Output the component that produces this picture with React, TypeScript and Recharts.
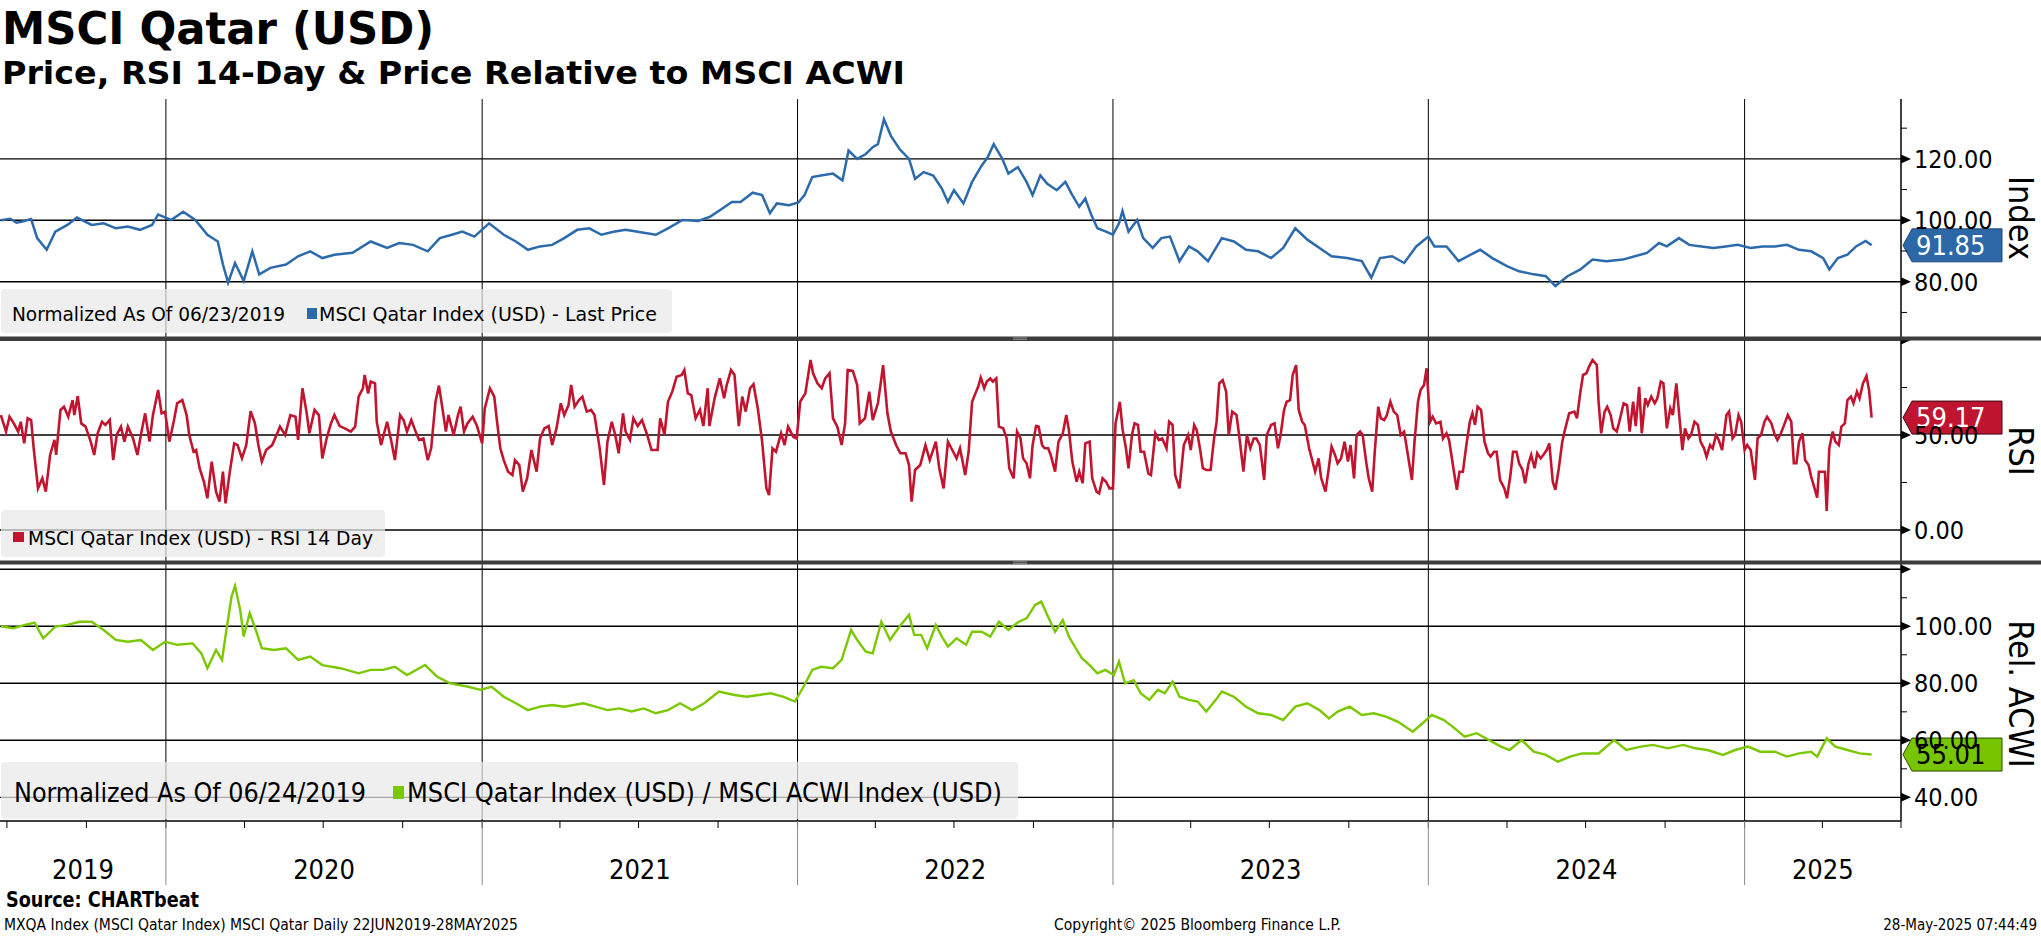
import React from "react";
import { LineChart, Line, XAxis, YAxis, ReferenceLine } from "recharts";

const FONT = "'DejaVu Sans Condensed', 'DejaVu Sans', sans-serif";

const X_START = "2019-06-23";
const X_END = "2025-07-01";
const YEAR_STARTS = ["2020-01-01", "2021-01-01", "2022-01-01", "2023-01-01", "2024-01-01", "2025-01-01"];
const YEAR_LABELS = ["2019", "2020", "2021", "2022", "2023", "2024", "2025"];

const PRICE_COLOR = "#2c6aab";
const RSI_COLOR = "#c1152f";
const REL_COLOR = "#7cc800";

// ---------------- Price (normalized) ----------------
const priceDates = [
  "2019-06-24", "2019-07-05", "2019-07-12", "2019-07-19", "2019-07-29", "2019-08-05", "2019-08-16", "2019-08-26", "2019-09-09", "2019-09-20",
  "2019-10-07", "2019-10-21", "2019-11-04", "2019-11-18", "2019-12-02", "2019-12-16", "2019-12-23",
  "2020-01-07", "2020-01-21", "2020-02-04", "2020-02-18", "2020-03-01", "2020-03-07", "2020-03-13", "2020-03-21", "2020-03-31", "2020-04-10",
  "2020-04-18", "2020-05-01", "2020-05-19", "2020-06-02", "2020-06-16", "2020-06-30", "2020-07-14", "2020-08-04", "2020-08-25", "2020-09-13",
  "2020-09-27", "2020-10-13", "2020-10-30", "2020-11-13", "2020-11-27", "2020-12-09", "2020-12-23",
  "2021-01-09", "2021-01-26", "2021-02-09", "2021-02-23", "2021-03-09", "2021-03-23", "2021-04-06", "2021-04-21", "2021-05-05", "2021-05-19",
  "2021-06-02", "2021-06-16", "2021-06-30", "2021-07-21", "2021-08-04", "2021-08-21", "2021-09-08", "2021-09-22", "2021-10-03", "2021-10-17",
  "2021-10-27", "2021-11-10", "2021-11-21", "2021-11-30", "2021-12-08", "2021-12-22",
  "2022-01-02", "2022-01-09", "2022-01-18", "2022-01-28", "2022-02-11", "2022-02-22", "2022-03-01", "2022-03-11", "2022-03-21", "2022-03-29",
  "2022-04-04", "2022-04-11", "2022-04-19", "2022-04-29", "2022-05-10", "2022-05-17", "2022-05-27", "2022-06-07", "2022-06-17", "2022-06-24",
  "2022-07-01", "2022-07-12", "2022-07-22", "2022-08-02", "2022-08-09", "2022-08-16", "2022-08-26", "2022-09-02", "2022-09-13", "2022-09-23",
  "2022-09-30", "2022-10-09", "2022-10-17", "2022-10-28", "2022-11-07", "2022-11-14", "2022-11-23", "2022-11-30", "2022-12-07", "2022-12-14",
  "2022-12-24",
  "2023-01-01", "2023-01-08", "2023-01-12", "2023-01-19", "2023-01-29", "2023-02-05", "2023-02-16", "2023-02-26", "2023-03-08", "2023-03-19",
  "2023-03-30", "2023-04-09", "2023-04-21", "2023-05-07", "2023-05-21", "2023-06-04", "2023-06-18", "2023-07-03", "2023-07-17", "2023-07-31",
  "2023-08-14", "2023-08-28", "2023-09-11", "2023-09-29", "2023-10-16", "2023-10-27", "2023-11-06", "2023-11-20", "2023-12-04", "2023-12-18",
  "2024-01-01", "2024-01-08", "2024-01-22", "2024-02-05", "2024-02-19", "2024-03-01", "2024-03-15", "2024-04-01", "2024-04-15", "2024-05-02",
  "2024-05-16", "2024-05-27", "2024-06-10", "2024-06-25", "2024-07-09", "2024-07-25", "2024-08-13", "2024-08-27", "2024-09-10", "2024-09-24",
  "2024-10-03", "2024-10-17", "2024-10-29", "2024-11-12", "2024-11-26", "2024-12-10", "2024-12-24",
  "2025-01-08", "2025-01-22", "2025-02-05", "2025-02-19", "2025-03-05", "2025-03-19", "2025-04-02", "2025-04-09", "2025-04-19", "2025-04-30",
  "2025-05-10", "2025-05-21", "2025-05-28",
];
const priceValues = [
  100, 100.5, 99.2, 99.6, 100.4, 94.2, 90.4, 96.3, 98.5, 100.9,
  98.5, 99, 97.4, 98, 96.9, 98.5, 101.9,
  100.1, 102.8, 100.1, 95.3, 93.1, 85.6, 79.7, 86.1, 80.2, 89.9,
  82.4, 84.5, 85.6, 88.3, 89.9, 87.7, 88.8, 89.4, 93.1, 91,
  92.6, 92, 89.9, 94.2, 95.3, 96.3, 94.7,
  99, 95.3, 93.1, 90.4, 91.5, 92, 94.2, 96.9, 97.4, 95.3,
  96.3, 96.9, 96.3, 95.3, 97.4, 100.1, 99.8, 101.2, 103.3, 106,
  106, 109, 108.2, 102.3, 105.5, 104.9,
  105.8, 108.2, 114.1, 114.6, 115.2, 113, 122.7, 120, 121.6, 123.8,
  124.8, 132.9, 127.5, 123.2, 120, 113.5, 115.7, 114.6, 110.3, 106,
  109.8, 105.5, 112.5, 117.8, 120.5, 124.8, 120, 115.2, 117.3, 112.5,
  108.2, 114.6, 111.9, 109.8, 112.5, 108.7, 104.4, 107.1, 101.7, 97.4,
  96.3,
  95.3, 99, 103, 96.3, 100.1, 94.2, 91, 94.2, 94.7, 86.7,
  91.5, 89.9, 86.7, 94.2, 93.1, 90.4, 89.9, 87.7, 91, 97.4,
  93.7, 91, 88.3, 87.7, 86.7, 81.3, 87.7, 88.3, 86.1, 91.5,
  94.7, 91.5, 91.5, 86.7, 88.8, 90.4, 87.7, 85.1, 83.4, 82.4,
  81.8, 78.6, 81.8, 84, 87.2, 86.7, 87.2, 88.3, 89.4, 92.6,
  91.5, 94.2, 92, 91.5, 91, 91.5, 92,
  91, 91.5, 91.5, 92, 90.4, 89.9, 87.7, 84, 87.7, 88.8,
  91.5, 93.3, 91.85,
];

// ---------------- RSI 14 day ----------------
const rsiDates = [
  "2019-06-24", "2019-06-30", "2019-07-04", "2019-07-09", "2019-07-14", "2019-07-17", "2019-07-21", "2019-07-25", "2019-07-29", "2019-08-01",
  "2019-08-06", "2019-08-11", "2019-08-15", "2019-08-20", "2019-08-25", "2019-08-27", "2019-09-01", "2019-09-05", "2019-09-10", "2019-09-15",
  "2019-09-17", "2019-09-21", "2019-09-25", "2019-09-30", "2019-10-06", "2019-10-10", "2019-10-14", "2019-10-19", "2019-10-23", "2019-10-28",
  "2019-11-01", "2019-11-05", "2019-11-10", "2019-11-14", "2019-11-18", "2019-11-24", "2019-11-29", "2019-12-03", "2019-12-08", "2019-12-13",
  "2019-12-17", "2019-12-23", "2019-12-27", "2019-12-31",
  "2020-01-05", "2020-01-10", "2020-01-14", "2020-01-20", "2020-01-25", "2020-01-28", "2020-02-02", "2020-02-05", "2020-02-09", "2020-02-14",
  "2020-02-18", "2020-02-23", "2020-02-28", "2020-03-03", "2020-03-07", "2020-03-10", "2020-03-15", "2020-03-20", "2020-03-24", "2020-03-29",
  "2020-04-03", "2020-04-08", "2020-04-13", "2020-04-17", "2020-04-21", "2020-04-26", "2020-05-03", "2020-05-08", "2020-05-12", "2020-05-18",
  "2020-05-24", "2020-05-30", "2020-06-02", "2020-06-07", "2020-06-12", "2020-06-15", "2020-06-21", "2020-06-26", "2020-06-30", "2020-07-05",
  "2020-07-10", "2020-07-14", "2020-07-20", "2020-07-26", "2020-08-02", "2020-08-07", "2020-08-11", "2020-08-16", "2020-08-18", "2020-08-22",
  "2020-08-25", "2020-08-30", "2020-09-01", "2020-09-06", "2020-09-09", "2020-09-13", "2020-09-18", "2020-09-22", "2020-09-28", "2020-10-02",
  "2020-10-06", "2020-10-11", "2020-10-16", "2020-10-20", "2020-10-25", "2020-10-30", "2020-11-03", "2020-11-08", "2020-11-12", "2020-11-16",
  "2020-11-20", "2020-11-23", "2020-11-29", "2020-12-04", "2020-12-07", "2020-12-11", "2020-12-15", "2020-12-21", "2020-12-26",
  "2021-01-01", "2021-01-04", "2021-01-10", "2021-01-15", "2021-01-18", "2021-01-22", "2021-01-26", "2021-01-31", "2021-02-05", "2021-02-08",
  "2021-02-13", "2021-02-17", "2021-02-22", "2021-02-27", "2021-03-05", "2021-03-09", "2021-03-14", "2021-03-19", "2021-03-23", "2021-03-28",
  "2021-04-02", "2021-04-06", "2021-04-11", "2021-04-14", "2021-04-18", "2021-04-23", "2021-04-27", "2021-05-02", "2021-05-07", "2021-05-11",
  "2021-05-17", "2021-05-22", "2021-05-26", "2021-05-31", "2021-06-04", "2021-06-08", "2021-06-13", "2021-06-16", "2021-06-21", "2021-06-25",
  "2021-06-30", "2021-07-05", "2021-07-11", "2021-07-16", "2021-07-23", "2021-07-26", "2021-07-31", "2021-08-04", "2021-08-09", "2021-08-14",
  "2021-08-20", "2021-08-23", "2021-08-27", "2021-08-31", "2021-09-05", "2021-09-10", "2021-09-14", "2021-09-19", "2021-09-21", "2021-09-27",
  "2021-10-03", "2021-10-08", "2021-10-11", "2021-10-16", "2021-10-20", "2021-10-25", "2021-10-29", "2021-11-02", "2021-11-07", "2021-11-11",
  "2021-11-16", "2021-11-21", "2021-11-26", "2021-11-29", "2021-12-03", "2021-12-07", "2021-12-13", "2021-12-17", "2021-12-21", "2021-12-27",
  "2021-12-31",
  "2022-01-04", "2022-01-10", "2022-01-16", "2022-01-19", "2022-01-24", "2022-01-29", "2022-02-02", "2022-02-07", "2022-02-11", "2022-02-16",
  "2022-02-21", "2022-02-25", "2022-02-28", "2022-03-06", "2022-03-11", "2022-03-14", "2022-03-20", "2022-03-25", "2022-03-29", "2022-04-04",
  "2022-04-08", "2022-04-10", "2022-04-15", "2022-04-19", "2022-04-25", "2022-04-30", "2022-05-06", "2022-05-10", "2022-05-13", "2022-05-17",
  "2022-05-23", "2022-05-29", "2022-06-03", "2022-06-10", "2022-06-14", "2022-06-19", "2022-06-24", "2022-07-01", "2022-07-04", "2022-07-08",
  "2022-07-11", "2022-07-14", "2022-07-18", "2022-07-22", "2022-07-25", "2022-07-29", "2022-08-01", "2022-08-05", "2022-08-08", "2022-08-12",
  "2022-08-15", "2022-08-19", "2022-08-22", "2022-08-27", "2022-08-31", "2022-09-03", "2022-09-08", "2022-09-12", "2022-09-16", "2022-09-19",
  "2022-09-23", "2022-09-27", "2022-09-30", "2022-10-04", "2022-10-07", "2022-10-11", "2022-10-14", "2022-10-18", "2022-10-21", "2022-10-26",
  "2022-10-30", "2022-11-04", "2022-11-08", "2022-11-11", "2022-11-15", "2022-11-20", "2022-11-23", "2022-11-27", "2022-11-30", "2022-12-05",
  "2022-12-08", "2022-12-13", "2022-12-16", "2022-12-20", "2022-12-24", "2022-12-28",
  "2023-01-01", "2023-01-04", "2023-01-09", "2023-01-12", "2023-01-16", "2023-01-19", "2023-01-23", "2023-01-26", "2023-01-30", "2023-02-02",
  "2023-02-06", "2023-02-11", "2023-02-14", "2023-02-19", "2023-02-23", "2023-02-27", "2023-03-04", "2023-03-07", "2023-03-11", "2023-03-14",
  "2023-03-19", "2023-03-24", "2023-03-29", "2023-04-01", "2023-04-05", "2023-04-08", "2023-04-12", "2023-04-15", "2023-04-19", "2023-04-24",
  "2023-04-28", "2023-05-01", "2023-05-04", "2023-05-08", "2023-05-12", "2023-05-15", "2023-05-19", "2023-05-24", "2023-05-27", "2023-06-01",
  "2023-06-05", "2023-06-09", "2023-06-13", "2023-06-16", "2023-06-20", "2023-06-25", "2023-06-28", "2023-07-03", "2023-07-07", "2023-07-11",
  "2023-07-14", "2023-07-18", "2023-07-21", "2023-07-25", "2023-07-28", "2023-08-01", "2023-08-04", "2023-08-08", "2023-08-11", "2023-08-16",
  "2023-08-20", "2023-08-23", "2023-08-27", "2023-08-30", "2023-09-04", "2023-09-08", "2023-09-11", "2023-09-15", "2023-09-18", "2023-09-22",
  "2023-09-26", "2023-09-30", "2023-10-03", "2023-10-07", "2023-10-10", "2023-10-14", "2023-10-17", "2023-10-21", "2023-10-24", "2023-10-28",
  "2023-10-31", "2023-11-04", "2023-11-07", "2023-11-11", "2023-11-14", "2023-11-18", "2023-11-22", "2023-11-26", "2023-11-30", "2023-12-04",
  "2023-12-08", "2023-12-13", "2023-12-16", "2023-12-20", "2023-12-23", "2023-12-27", "2023-12-30",
  "2024-01-03", "2024-01-06", "2024-01-10", "2024-01-15", "2024-01-18", "2024-01-22", "2024-01-25", "2024-01-30", "2024-02-03", "2024-02-06",
  "2024-02-10", "2024-02-14", "2024-02-18", "2024-02-21", "2024-02-24", "2024-02-27", "2024-03-02", "2024-03-06", "2024-03-10", "2024-03-13",
  "2024-03-17", "2024-03-20", "2024-03-24", "2024-03-29", "2024-04-01", "2024-04-05", "2024-04-08", "2024-04-12", "2024-04-15", "2024-04-19",
  "2024-04-22", "2024-04-26", "2024-04-29", "2024-05-03", "2024-05-06", "2024-05-10", "2024-05-13", "2024-05-17", "2024-05-20", "2024-05-24",
  "2024-05-27", "2024-05-31", "2024-06-04", "2024-06-07", "2024-06-12", "2024-06-18", "2024-06-21", "2024-06-25", "2024-06-28", "2024-07-02",
  "2024-07-05", "2024-07-09", "2024-07-14", "2024-07-16", "2024-07-19", "2024-07-23", "2024-07-26", "2024-07-30", "2024-08-02", "2024-08-06",
  "2024-08-09", "2024-08-14", "2024-08-18", "2024-08-21", "2024-08-25", "2024-08-28", "2024-09-01", "2024-09-04", "2024-09-08", "2024-09-11",
  "2024-09-15", "2024-09-19", "2024-09-22", "2024-09-26", "2024-09-29", "2024-10-03", "2024-10-07", "2024-10-10", "2024-10-14", "2024-10-17",
  "2024-10-21", "2024-10-24", "2024-10-28", "2024-10-31", "2024-11-04", "2024-11-08", "2024-11-11", "2024-11-15", "2024-11-18", "2024-11-22",
  "2024-11-25", "2024-11-29", "2024-12-02", "2024-12-06", "2024-12-11", "2024-12-14", "2024-12-18", "2024-12-21", "2024-12-25", "2024-12-28",
  "2025-01-01", "2025-01-04", "2025-01-08", "2025-01-13", "2025-01-16", "2025-01-20", "2025-01-24", "2025-01-27", "2025-02-01", "2025-02-05",
  "2025-02-08", "2025-02-12", "2025-02-15", "2025-02-20", "2025-02-24", "2025-02-27", "2025-03-02", "2025-03-05", "2025-03-09", "2025-03-12",
  "2025-03-16", "2025-03-19", "2025-03-23", "2025-03-26", "2025-03-28", "2025-04-04", "2025-04-06", "2025-04-09", "2025-04-13", "2025-04-16",
  "2025-04-20", "2025-04-23", "2025-04-27", "2025-04-30", "2025-05-04", "2025-05-07", "2025-05-11", "2025-05-14", "2025-05-18", "2025-05-22",
  "2025-05-25", "2025-05-28",
];
const rsiValues = [
  60.5, 51.8, 59.6, 56.1, 51.8, 57, 45.6, 58.8, 57.9, 43,
  21.9, 27.2, 20.2, 39.5, 47.4, 39.5, 63.2, 64.9, 59.6, 68.4,
  60.5, 70.5, 56.1, 54.4, 46.5, 39.5, 50.9, 57, 55.3, 57.9,
  36.8, 50, 54.4, 46.5, 54.4, 48.2, 39.5, 50, 61.4, 46.5,
  60.5, 73.7, 61.4, 62.3,
  46.5, 57, 66.7, 68.4, 60.5, 50, 41.2, 42.1, 32.5, 25.4,
  16.7, 36, 20.2, 14.9, 30.7, 14, 30.7, 45.6, 44.7, 37.7,
  44.7, 62.6, 56.1, 44.7, 36, 42.1, 44.7, 50, 54.4, 50,
  60.5, 59.6, 47.4, 74.6, 61.4, 50.9, 63.2, 60.5, 37.7, 48.2,
  56.1, 60.5, 54.7, 53.5, 51.8, 54.4, 70.2, 74.6, 81.6, 71.9,
  78.1, 77.2, 57, 44.7, 50, 57, 46.5, 36.8, 60.5, 57.9,
  51.8, 57.9, 51.8, 47.4, 48.2, 36.8, 43, 67.5, 76, 64,
  51.8, 60.5, 50, 60.5, 64.9, 51.8, 56.1, 59.6, 54.7,
  45.6, 64, 74.6, 70.2, 57.9, 43, 36.8, 30.7, 28.9, 36.8,
  34.2, 20.2, 27.2, 42.1, 30.7, 48.2, 53.5, 54.7, 44.7, 53.5,
  66.7, 60.5, 65.8, 76.3, 64.9, 68.4, 70.2, 62.3, 63.2, 60.5,
  43, 23.7, 46.5, 57, 50, 40.4, 61.4, 51.8, 47.4, 58.8,
  54.7, 57.9, 50, 42.1, 42.1, 58.8, 50, 67.5, 72.8, 80.7,
  81.6, 84.2, 71.9, 71, 58.8, 63.2, 54.7, 74.6, 54.7, 69.3,
  79.8, 69.3, 76.3, 84.2, 81.6, 54.7, 70.2, 62.3, 74.6, 76.7,
  64, 46.5, 21.9, 18.4, 43, 41.2, 50.9, 44.7, 54.4, 49.1,
  48.2,
  67.5, 71.9, 89.5, 82.5, 77.2, 74.6, 79.8, 82.5, 58.8, 54.4,
  44.7, 56.1, 84.2, 83.7, 76.3, 56.1, 58.8, 72.8, 57.9, 66.7,
  79.8, 86.8, 61.4, 51.8, 44.7, 40.4, 40.4, 34.2, 14.9, 31.6,
  34.2, 44.7, 36.8, 46.5, 32.5, 21.9, 46.5, 40.4, 37.7, 43,
  36, 28.9, 41.2, 67.5, 71, 75.4, 80.2, 74.6, 78.1, 79.8,
  78.1, 79.8, 54.4, 53.5, 48.2, 32.5, 27.2, 51.8, 48.2, 37.7,
  35.1, 27.2, 44.7, 54.7, 54.4, 44.7, 43, 43, 39.5, 30.7,
  46.5, 50.9, 60.5, 52.6, 36, 25.4, 30.7, 24.6, 45.6, 46.5,
  27.2, 20.2, 19.3, 27.2, 25.4, 21.9,
  21.9, 56.1, 67.5, 53.5, 43, 32.5, 50, 56.1, 55.3, 41.2,
  41.2, 29.8, 28.9, 50.9, 47.4, 48.2, 43, 57, 55.3, 28.9,
  21.9, 44.7, 50, 42.1, 55.3, 52.6, 42.1, 32.5, 31.6, 31.6,
  48.2, 57, 77.2, 78.9, 72.8, 50, 62.3, 60.5, 50, 30.7,
  50, 43, 48.2, 48.2, 44.7, 26.3, 50, 55.3, 56.1, 43,
  50, 63.2, 67.5, 68.4, 81.6, 86.8, 63.2, 57, 55.3, 43,
  36, 30.7, 37.7, 27.2, 20.2, 33.3, 43.9, 39.5, 35.1, 37.7,
  46.5, 36, 44.7, 27.2, 50, 51.8, 50, 36, 27.2, 20.2,
  41.2, 64.9, 58.8, 57.9, 60.5, 67.5, 62.3, 60.5, 50, 51.8,
  40.4, 26.3, 46.5, 67.5, 73.7, 76.3, 85.1,
  57, 59.6, 56.1, 57, 48.2, 50.9, 47.4, 32.5, 21.1, 30.7,
  30.7, 44.7, 57, 61.4, 55.3, 64.9, 63.2, 46.5, 40.4, 38.6,
  41.2, 41.2, 26.3, 21.9, 16.7, 28.9, 41.2, 41.2, 35.1, 31.6,
  24.6, 35.1, 39.5, 32.5, 40.4, 37.7, 39.5, 42.1, 45.6, 25.4,
  21.1, 32.5, 46.5, 52.6, 61.4, 62.3, 58.8, 72.8, 81.6, 82.5,
  86, 89.5, 86.8, 67.5, 50.9, 62.3, 64.9, 60.5, 53.5, 51.8,
  57, 66.7, 65.8, 51.8, 67.5, 54.7, 75.4, 50.9, 69.3, 65.8,
  70.2, 66.7, 69.3, 78.1, 77.2, 53.5, 64, 60.5, 77.2, 62.3,
  42.1, 53.5, 48.2, 50, 57, 55.3, 46.5, 43, 38.6, 44.7,
  43, 50, 47.4, 42.1, 60.5, 62.3, 48.2, 50, 60.5, 57,
  42.1, 44.7, 42.1, 26.3, 48.2, 50, 57, 59.6, 56.1, 50,
  47.4, 50.9, 54.4, 60.5, 57, 35.1, 35.1, 46.5, 50.9, 36.8,
  34.2, 28.1, 21.9, 17, 30.7, 30.7, 10, 43, 51.8, 46.5,
  44.7, 54.4, 56.1, 68.4, 70.2, 66.7, 72.8, 69.3, 77.2, 81.1,
  73.7, 59.17,
];

// ---------------- Relative to MSCI ACWI ----------------
const relDates = [
  "2019-06-24", "2019-07-08", "2019-07-22", "2019-08-02", "2019-08-12", "2019-08-26", "2019-09-09", "2019-09-23", "2019-10-07", "2019-10-21",
  "2019-11-04", "2019-11-18", "2019-12-03", "2019-12-17", "2019-12-31",
  "2020-01-14", "2020-02-01", "2020-02-11", "2020-02-18", "2020-02-28", "2020-03-06", "2020-03-11", "2020-03-17", "2020-03-21", "2020-03-27",
  "2020-03-31", "2020-04-07", "2020-04-14", "2020-04-21", "2020-05-05", "2020-05-19", "2020-06-02", "2020-06-16", "2020-06-30", "2020-07-21",
  "2020-08-11", "2020-08-25", "2020-09-08", "2020-09-22", "2020-10-06", "2020-10-27", "2020-11-10", "2020-11-25", "2020-12-16", "2020-12-30",
  "2021-01-12", "2021-01-26", "2021-02-09", "2021-02-23", "2021-03-09", "2021-03-23", "2021-04-06", "2021-04-28", "2021-05-12", "2021-05-26",
  "2021-06-09", "2021-06-23", "2021-07-07", "2021-07-21", "2021-08-04", "2021-08-18", "2021-09-01", "2021-09-15", "2021-10-02", "2021-10-20",
  "2021-11-03", "2021-11-17", "2021-12-01", "2021-12-15", "2021-12-29",
  "2022-01-09", "2022-01-18", "2022-01-28", "2022-02-11", "2022-02-21", "2022-03-04", "2022-03-11", "2022-03-21", "2022-03-29", "2022-04-08",
  "2022-04-18", "2022-04-29", "2022-05-10", "2022-05-16", "2022-05-24", "2022-05-31", "2022-06-10", "2022-06-17", "2022-06-24", "2022-07-04",
  "2022-07-15", "2022-07-22", "2022-08-02", "2022-08-12", "2022-08-22", "2022-09-02", "2022-09-14", "2022-09-23", "2022-10-03", "2022-10-10",
  "2022-10-17", "2022-10-26", "2022-11-04", "2022-11-11", "2022-11-19", "2022-11-26", "2022-12-05", "2022-12-14", "2022-12-23",
  "2023-01-02", "2023-01-08", "2023-01-15", "2023-01-25", "2023-02-02", "2023-02-12", "2023-02-22", "2023-03-02", "2023-03-11", "2023-03-19",
  "2023-03-30", "2023-04-09", "2023-04-19", "2023-04-30", "2023-05-07", "2023-05-21", "2023-06-04", "2023-06-18", "2023-07-03", "2023-07-17",
  "2023-07-31", "2023-08-14", "2023-08-28", "2023-09-08", "2023-09-18", "2023-10-02", "2023-10-16", "2023-10-30", "2023-11-13", "2023-11-27",
  "2023-12-14", "2023-12-25",
  "2024-01-05", "2024-01-19", "2024-01-29", "2024-02-12", "2024-02-26", "2024-03-11", "2024-03-25", "2024-04-04", "2024-04-18", "2024-05-02",
  "2024-05-16", "2024-05-30", "2024-06-13", "2024-06-27", "2024-07-16", "2024-08-03", "2024-08-17", "2024-09-03", "2024-09-17", "2024-10-04",
  "2024-10-22", "2024-11-05", "2024-11-19", "2024-12-07", "2024-12-21",
  "2025-01-05", "2025-01-19", "2025-02-05", "2025-02-19", "2025-03-05", "2025-03-19", "2025-03-26", "2025-04-06", "2025-04-16", "2025-04-30",
  "2025-05-14", "2025-05-28",
];
const relValues = [
  100, 99.3, 100.5, 101.3, 95.8, 99.9, 100.5, 101.6, 101.6, 98.7,
  95.2, 94.6, 95.2, 91.7, 94.6,
  93.5, 94, 90.5, 85.3, 91.7, 88.2, 98.7, 110.4, 114.2, 105.7,
  96.4, 104.6, 98.7, 92.3, 91.7, 92.3, 88.2, 89.4, 86.4, 85.3,
  83.5, 84.7, 84.7, 85.8, 82.9, 86.4, 82.3, 80, 78.8, 77.7,
  78.8, 75.3, 73, 70.6, 71.8, 72.4, 71.8, 73, 71.8, 70.6,
  71.2, 70.1, 71.2, 69.5, 70.6, 73, 70.6, 73, 77.1, 75.9,
  75.3, 75.9, 76.5, 75.3, 73.6,
  79.4, 84.7, 85.8, 85.3, 88.2, 98.7, 95.2, 91.1, 90.5, 101.6,
  95.2, 99.9, 104, 97, 97, 92.3, 100.5, 96.4, 92.9, 95.8,
  93.5, 98.1, 98.1, 96.4, 101.6, 98.7, 101.6, 102.8, 107.5, 108.7,
  104, 98.1, 102.2, 96.4, 92.3, 88.8, 86.4, 83.5, 84.7,
  82.9, 87.6, 80, 81.1, 76.5, 74.2, 77.7, 76.5, 80.6, 75.3,
  74.2, 73.6, 70.1, 74.2, 77.1, 75.3, 71.8, 69.5, 68.9, 67.1,
  71.8, 73, 70.6, 67.7, 70.1, 71.8, 68.9, 69.5, 68.3, 66.5,
  63, 65.9,
  68.9, 67.1, 64.8, 61.3, 62.5, 60.1, 57.8, 56.6, 60.1, 56,
  54.9, 52.5, 54.3, 55.4, 55.4, 60.1, 56.6, 57.8, 58.4, 57.2,
  58.4, 57.2, 56.6, 54.9, 56.6,
  57.8, 56, 56, 54.3, 55.4, 56, 54.3, 60.7, 57.8, 56.6,
  55.4, 55.01,
];

// ---------------- Axis ticks ----------------
const priceTicks = [70, 80, 90, 100, 110, 120, 130];
const priceMajor = [80, 100, 120];
const priceLabels = [80, 100, 120];
const rsiTicks = [0, 25, 50, 75, 100];
const rsiMajor = [0, 50, 100];
const rsiLabels = [0, 50];
const relTicks = [40, 50, 60, 70, 80, 90, 100, 110, 120];
const relMajor = [40, 60, 80, 100, 120];
const relLabels = [40, 60, 80, 100];

const W = 2041;
const AXIS_W = 140;

const toData = (dates: string[], values: number[]) => {
  const n = Math.min(dates.length, values.length);
  const out: { t: number; v: number }[] = [];
  for (let i = 0; i < n; i++) out.push({ t: Date.parse(dates[i]), v: values[i] });
  return out;
};

const priceData = toData(priceDates, priceValues);
const rsiData = toData(rsiDates, rsiValues);
const relData = toData(relDates, relValues);

const xDomain: [number, number] = [Date.parse(X_START), Date.parse(X_END)];
const yearStartTs = YEAR_STARTS.map((d) => Date.parse(d));

// quarterly minor ticks on the time axis
const quarterTicks: number[] = [];
for (let y = 2019; y <= 2025; y++) {
  for (const m of [0, 3, 6, 9]) {
    const t = Date.UTC(y, m, 1);
    if (t >= xDomain[0] && t <= xDomain[1]) quarterTicks.push(t);
  }
}
// year labels centred on the visible part of each year
const yearMid = new Map<number, string>();
YEAR_LABELS.forEach((lab) => {
  const y = Number(lab);
  const s = Math.max(xDomain[0], Date.UTC(y, 0, 1));
  const e = Math.min(xDomain[1], Date.UTC(y + 1, 0, 1));
  yearMid.set(Math.round((s + e) / 2), lab);
});
const xTicks = [...quarterTicks, ...Array.from(yearMid.keys())].sort((a, b) => a - b);
const yearStartSet = new Set(yearStartTs);

const XTick = (props: any) => {
  const { x, y, payload } = props;
  const v = payload.value;
  if (yearMid.has(v)) {
    return (
      <text x={x} y={y + 58} textAnchor="middle" fontSize={27} fontFamily={FONT} fill="#000">
        {yearMid.get(v)}
      </text>
    );
  }
  return (
    <g>
      <line x1={x} x2={x} y1={y} y2={y + 7} stroke="#000" strokeWidth={1} />
      {yearStartSet.has(v) && <line x1={x} x2={x} y1={y} y2={y + 64} stroke="#8c8c8c" strokeWidth={1} />}
    </g>
  );
};

const makeYTick = (major: number[], labels: number[]) => (props: any) => {
  const { x, y, payload } = props;
  const v = payload.value;
  const isMajor = major.includes(v);
  return (
    <g>
      {isMajor ? (
        <polygon points={`${x},${y - 4.5} ${x + 10},${y} ${x},${y + 4.5}`} fill="#000" />
      ) : (
        <line x1={x} x2={x + 6} y1={y} y2={y} stroke="#000" strokeWidth={1} />
      )}
      {labels.includes(v) && (
        <text x={x + 13} y={y + 9} fontSize={25} fontFamily={FONT} fill="#000">
          {v.toFixed(2)}
        </text>
      )}
    </g>
  );
};

const Badge = (props: any) => {
  const { viewBox, text, fill, stroke, color } = props;
  if (!viewBox) return null;
  const x0 = viewBox.x + viewBox.width + 2;
  const cy = viewBox.y;
  const h = 16.5;
  const pts = `${x0},${cy} ${x0 + 9},${cy - h} ${x0 + 99},${cy - h} ${x0 + 99},${cy + h} ${x0 + 9},${cy + h}`;
  return (
    <g>
      <polygon points={pts} fill={fill} stroke={stroke} strokeWidth={1} />
      <text x={x0 + 13} y={cy + 9.5} fontSize={27} fontFamily={FONT} fill={color}>
        {text}
      </text>
    </g>
  );
};

const yearLines = (key: string) =>
  yearStartTs.map((t) => <ReferenceLine key={key + t} x={t} stroke="#000" strokeWidth={1} />);

const gridLines = (key: string, vals: number[]) =>
  vals.map((v) => <ReferenceLine key={key + v} y={v} stroke="#000" strokeWidth={1.4} />);

const Panel = (p: {
  top: number;
  height: number;
  data: { t: number; v: number }[];
  domain: [number, number];
  ticks: number[];
  major: number[];
  labels: number[];
  color: string;
  width: number;
  badgeText: string;
  badgeFill: string;
  badgeStroke: string;
  badgeColor: string;
  showX?: boolean;
}) => {
  const last = p.data[p.data.length - 1];
  return (
    <div style={{ position: "absolute", left: 0, top: p.top }}>
      <LineChart width={W} height={p.height} data={p.data} margin={{ top: 0, right: 0, bottom: 0, left: 0 }}>
        {p.showX ? (
          <XAxis
            type="number"
            dataKey="t"
            domain={xDomain}
            allowDataOverflow
            ticks={xTicks}
            interval={0}
            tick={<XTick />}
            tickLine={false}
            tickSize={0}
            tickMargin={0}
            height={115}
            axisLine={{ stroke: "#000", strokeWidth: 1.5 }}
          />
        ) : (
          <XAxis type="number" dataKey="t" domain={xDomain} allowDataOverflow hide />
        )}
        <YAxis
          orientation="right"
          type="number"
          width={AXIS_W}
          domain={p.domain}
          allowDataOverflow
          ticks={p.ticks}
          interval={0}
          tick={makeYTick(p.major, p.labels)}
          tickLine={false}
          tickSize={0}
          tickMargin={0}
          axisLine={{ stroke: "#000", strokeWidth: 1.5 }}
        />
        {yearLines("yl")}
        {gridLines("gl", p.major)}
        <Line
          type="linear"
          dataKey="v"
          stroke={p.color}
          strokeWidth={p.width}
          dot={false}
          isAnimationActive={false}
        />
        <ReferenceLine
          y={last.v}
          stroke="none"
          label={<Badge text={p.badgeText} fill={p.badgeFill} stroke={p.badgeStroke} color={p.badgeColor} />}
        />
      </LineChart>
    </div>
  );
};

const Legend = (p: { x: number; y: number; w: number; h: number }) => (
  <rect x={p.x} y={p.y} width={p.w} height={p.h} rx={4} fill="#e9e9e9" fillOpacity={0.72} />
);

export default function App() {
  return (
    <div style={{ position: "absolute", left: 0, top: 0, width: W, height: 936, background: "#fff", overflow: "hidden" }}>
      <Panel
        top={99}
        height={238}
        data={priceData}
        domain={[62.0, 139.5]}
        ticks={priceTicks}
        major={priceMajor}
        labels={priceLabels}
        color={PRICE_COLOR}
        width={2.5}
        badgeText="91.85"
        badgeFill="#2c67a6"
        badgeStroke="#1c4a7c"
        badgeColor="#fff"
      />
      <Panel
        top={339}
        height={223}
        data={rsiData}
        domain={[-16.84, 100.53]}
        ticks={rsiTicks}
        major={rsiMajor}
        labels={rsiLabels}
        color={RSI_COLOR}
        width={2.6}
        badgeText="59.17"
        badgeFill="#bf1530"
        badgeStroke="#3a0810"
        badgeColor="#fff"
      />
      <Panel
        top={563}
        height={373}
        data={relData}
        domain={[31.7, 122.2]}
        ticks={relTicks}
        major={relMajor}
        labels={relLabels}
        color={REL_COLOR}
        width={2.4}
        badgeText="55.01"
        badgeFill="#77c500"
        badgeStroke="#2c4a00"
        badgeColor="#000"
        showX
      />
      <svg
        width={W}
        height={936}
        style={{ position: "absolute", left: 0, top: 0, pointerEvents: "none" }}
        fontFamily={FONT}
      >
        {/* titles */}
        <text x={2} y={44} fontSize={44} fontWeight="bold" textLength={432} lengthAdjust="spacingAndGlyphs">
          MSCI Qatar (USD)
        </text>
        <text x={2} y={84} fontSize={32} fontWeight="bold" textLength={903} lengthAdjust="spacingAndGlyphs">
          Price, RSI 14-Day &amp; Price Relative to MSCI ACWI
        </text>

        {/* panel separators */}
        <rect x={0} y={336.5} width={W} height={4} fill="#3c3c3c" />
        <rect x={0} y={560.5} width={W} height={4} fill="#3c3c3c" />
        <line x1={1013} x2={1027} y1={337.8} y2={337.8} stroke="#9a9a9a" strokeWidth={0.8} />
        <line x1={1013} x2={1027} y1={339.4} y2={339.4} stroke="#9a9a9a" strokeWidth={0.8} />
        <line x1={1013} x2={1027} y1={561.8} y2={561.8} stroke="#9a9a9a" strokeWidth={0.8} />
        <line x1={1013} x2={1027} y1={563.4} y2={563.4} stroke="#9a9a9a" strokeWidth={0.8} />

        {/* legends */}
        <Legend x={1} y={289} w={671} h={44} />
        <text x={12} y={321} fontSize={20} textLength={273} lengthAdjust="spacingAndGlyphs">
          Normalized As Of 06/23/2019
        </text>
        <rect x={307} y={308} width={10} height={11} fill={PRICE_COLOR} />
        <text x={319} y={321} fontSize={20} textLength={338} lengthAdjust="spacingAndGlyphs">
          MSCI Qatar Index (USD) - Last Price
        </text>

        <Legend x={1} y={510} w={384} h={47} />
        <rect x={13} y={532} width={11} height={10} fill={RSI_COLOR} />
        <text x={28} y={545} fontSize={20} textLength={345} lengthAdjust="spacingAndGlyphs">
          MSCI Qatar Index (USD) - RSI 14 Day
        </text>

        <Legend x={1} y={762} w={1017} h={57} />
        <text x={14} y={802} fontSize={27} textLength={352} lengthAdjust="spacingAndGlyphs">
          Normalized As Of 06/24/2019
        </text>
        <rect x={393} y={786} width={11} height={13} fill={REL_COLOR} />
        <text x={407} y={802} fontSize={27} textLength={595} lengthAdjust="spacingAndGlyphs">
          MSCI Qatar Index (USD) / MSCI ACWI Index (USD)
        </text>

        {/* axis titles */}
        <text transform="translate(2009,218) rotate(90)" textAnchor="middle" fontSize={34}>
          Index
        </text>
        <text transform="translate(2009,451) rotate(90)" textAnchor="middle" fontSize={34}>
          RSI
        </text>
        <text transform="translate(2009,694) rotate(90)" textAnchor="middle" fontSize={34}>
          Rel. ACWI
        </text>

        {/* footer */}
        <text x={6} y={907} fontSize={22} fontWeight="bold" textLength={193} lengthAdjust="spacingAndGlyphs">
          Source: CHARTbeat
        </text>
        <text x={4} y={930} fontSize={15} textLength={514} lengthAdjust="spacingAndGlyphs">
          MXQA Index (MSCI Qatar Index) MSCI Qatar  Daily 22JUN2019-28MAY2025
        </text>
        <text x={1054} y={930} fontSize={15} textLength={287} lengthAdjust="spacingAndGlyphs">
          Copyright© 2025 Bloomberg Finance L.P.
        </text>
        <text x={2037} y={930} fontSize={15} textAnchor="end">
          28-May-2025 07:44:49
        </text>
      </svg>
    </div>
  );
}
